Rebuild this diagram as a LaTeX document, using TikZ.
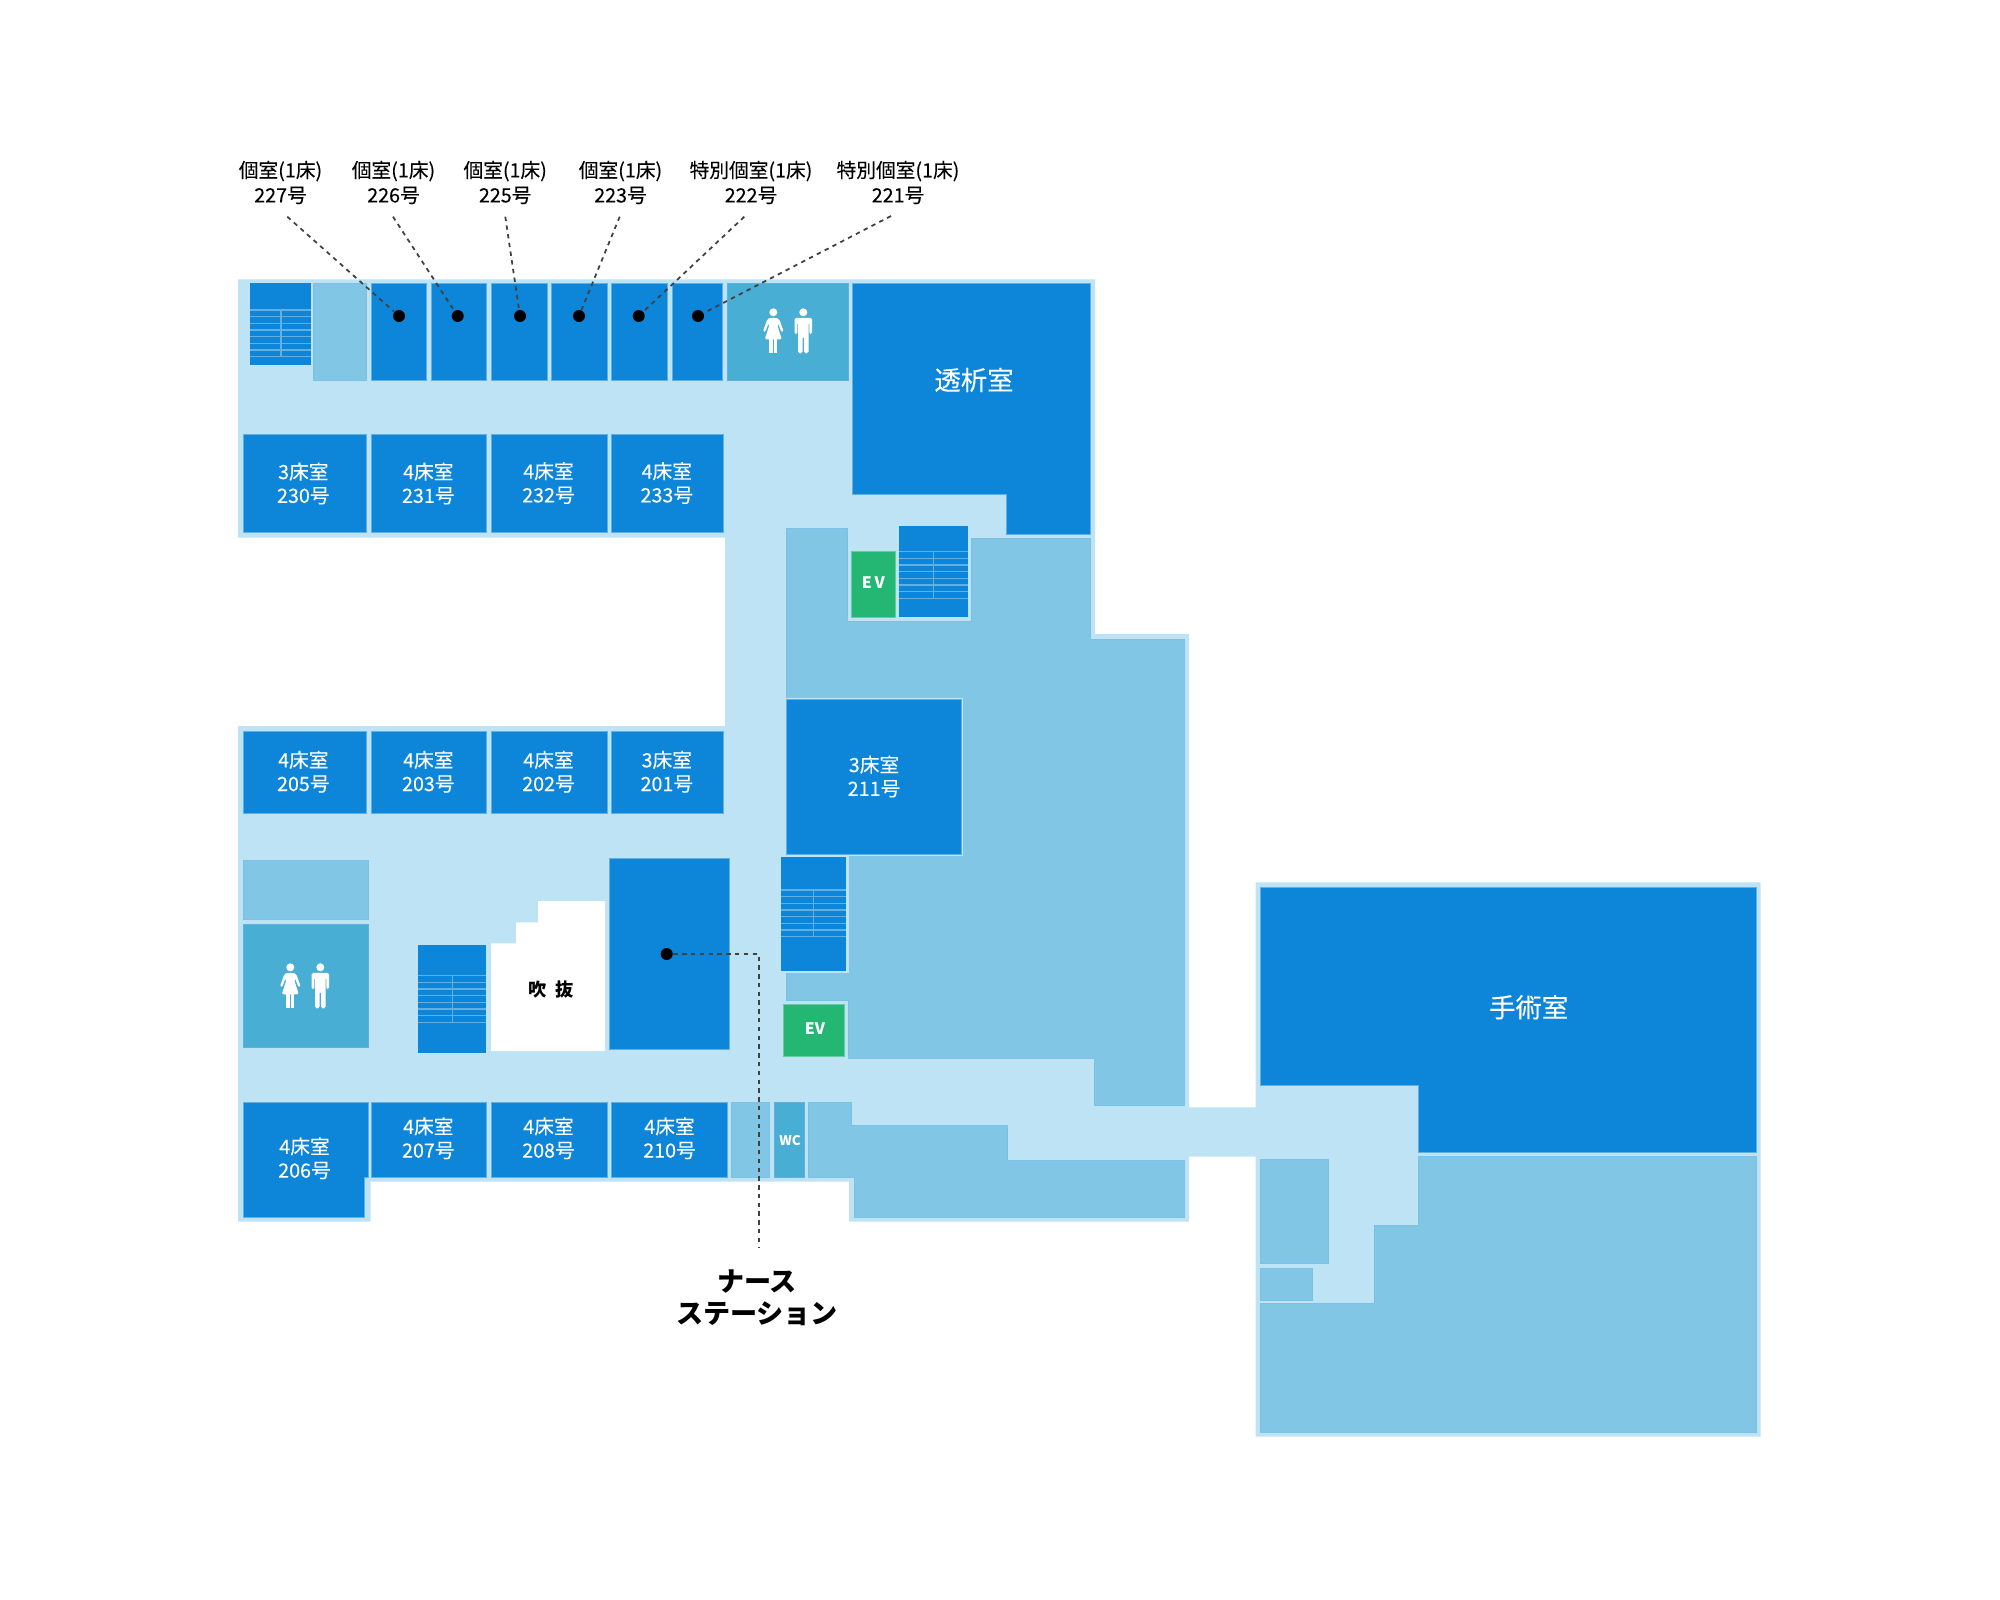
\documentclass[tikz,border=0pt]{standalone}
\usepackage{fontspec}
\newfontfamily\cjk{Noto Sans CJK JP}
\newfontfamily\cjkmid[FakeBold=0.12]{Noto Sans CJK JP}
\usetikzlibrary{positioning}
\definecolor{floorblue}{HTML}{BDE3F5}
\definecolor{paleblue}{HTML}{82C6E6}
\definecolor{roomblue}{HTML}{0D85D8}
\definecolor{wcblue}{HTML}{49AED4}
\definecolor{evgreen}{HTML}{24B774}
\definecolor{stepline}{HTML}{62B0E2}
\tikzstyle{every path}=[line join=miter]
\tikzstyle{floor}=[fill=floorblue]
\tikzstyle{pale}=[fill=paleblue,draw=paleblue!92!roomblue,line width=0.2pt]
\tikzstyle{room}=[fill=roomblue,draw=stepline,line width=0.2pt]
\tikzstyle{wcroom}=[fill=wcblue,draw=stepline,line width=0.2pt]
\tikzstyle{evroom}=[fill=evgreen,draw=evgreen!70!white,line width=0.2pt]
\tikzstyle{leader}=[draw=black!75,line width=0.5pt,dash pattern=on 1.25pt off 1.25pt]
\tikzstyle{dot}=[circle,fill=black,inner sep=0pt,minimum size=0.12cm]
\tikzstyle{roomlabel}=[text=white,align=center,inner sep=0pt,font=\cjkmid\fontsize{5.6}{6.75}\selectfont]
\tikzstyle{toplabel}=[text=black,align=center,inner sep=0pt,font=\cjkmid\fontsize{5.6}{7.1}\selectfont]
\tikzstyle{biglabel}=[text=white,inner sep=0pt,font=\cjkmid\fontsize{7.5}{9}\selectfont]
\tikzstyle{signlabel}=[text=white,inner sep=0pt,font=\cjk\bfseries\fontsize{4.5}{6}\selectfont]
% stair block: left, top, right, bottom, first step line, centre line
\newcommand{\stairblock}[6]{
  \fill[roomblue] (#1,#2) rectangle (#3,#4);
  \foreach \k in {0,...,7}
    \draw[stepline,line width=0.4pt] (#1,#5+\k*6.667) -- (#3,#5+\k*6.667);
  \draw[stepline,line width=0.4pt] (#6,#5) -- (#6,#5+46.67);
}
% woman and man pictogram, x of the woman, y of the heads
\newcommand{\wcsign}[2]{
  \begin{scope}[shift={(#1,#2)},white]
    \fill (0,0) circle (4);
    \fill[rounded corners=0.4pt] (-3.5,5.5) -- (3.5,5.5) -- (6,7) -- (10.3,19) -- (8.3,20) -- (4.7,11) -- (4,13) -- (8.5,27) -- (-8.5,27) -- (-4,13) -- (-4.7,11) -- (-8.3,20) -- (-10.3,19) -- (-6,7) -- cycle;
    \fill (-4,27) rectangle (-0.7,41);
    \fill (0.7,27) rectangle (4,41);
    \fill (30,0) circle (4);
    \fill[rounded corners=0.5pt] (21.2,22) -- (21.2,5.5) -- (38.8,5.5) -- (38.8,22) -- (36,22) -- (36,10) -- (35.3,10) -- (35.3,41) -- (30.7,41) -- (30.7,24) -- (29.3,24) -- (29.3,41) -- (24.7,41) -- (24.7,10) -- (24,10) -- (24,22) -- cycle;
  \end{scope}
}

\begin{document}
\begin{tikzpicture}[x=0.01cm,y=-0.01cm]
\useasboundingbox (0,0) rectangle (2000,1600);

% floor
\fill[floor] (238,279.3) -- (1095,279.3) -- (1095,634) -- (1189,634) -- (1189,1107.3) -- (1255.7,1107.3) -- (1255.7,882.3) -- (1760.7,882.3) -- (1760.7,1436.7) -- (1255.7,1436.7) -- (1255.7,1156.7) -- (1189,1156.7) -- (1189,1221.7) -- (849,1221.7) -- (849,1181.7) -- (370.7,1181.7) -- (370.7,1221.7) -- (238,1221.7) -- (238,726) -- (725,726) -- (725,537.7) -- (238,537.7) -- cycle;

% pale areas
\draw[pale] (786.7,528.3) -- (847.3,528.3) -- (847.3,621.7) -- (971.7,621.7) -- (971.7,538.3) -- (1090,538.3) -- (1090,639) -- (1184,639) -- (1184,1105.3) -- (1094,1105.3) -- (1094,1058) -- (848.7,1058) -- (848.7,1000) -- (786.7,1000) -- cycle;
\fill[floor] (783,698) rectangle (963,856);
\fill[floor] (778,856) rectangle (848.7,973);
\draw[pale] (808.7,1102.3) -- (851.7,1102.3) -- (851.7,1125) -- (1007,1125) -- (1007,1160) -- (1184,1160) -- (1184,1217.3) -- (854,1217.3) -- (854,1177.3) -- (808.7,1177.3) -- cycle;
\draw[pale] (313,283.3) rectangle (366.7,380.7);
\draw[pale] (243,860.3) rectangle (368.3,919.7);
\draw[pale] (731,1102.3) rectangle (769.3,1177.3);
\draw[pale] (1260,1159) rectangle (1328.3,1263.7);
\draw[pale] (1260,1268) rectangle (1312.3,1300.3);
\draw[pale] (1418.3,1156) -- (1756,1156) -- (1756,1432.7) -- (1260,1432.7) -- (1260,1303.7) -- (1374,1303.7) -- (1374,1225.7) -- (1418.3,1225.7) -- cycle;

% upper wing
\draw[room] (371,283.3) rectangle (426.7,380.7);
\draw[room] (431,283.3) rectangle (486.7,380.7);
\draw[room] (491,283.3) rectangle (547,380.7);
\draw[room] (551,283.3) rectangle (607,380.7);
\draw[room] (611.3,283.3) rectangle (667.3,380.7);
\draw[room] (672,283.3) rectangle (722.7,380.7);
\draw[wcroom] (727.3,283.3) rectangle (848,380.7);
\draw[room] (852.3,283.3) -- (1090,283.3) -- (1090,534) -- (1006,534) -- (1006,494) -- (852.3,494) -- cycle;
\draw[room] (243,434) rectangle (366.3,532.7);
\draw[room] (371,434) rectangle (486.7,532.7);
\draw[room] (491,434) rectangle (607,532.7);
\draw[room] (611.3,434) rectangle (723,532.7);
\stairblock{250.3}{283.3}{311}{365}{310}{281}
\stairblock{899}{526}{967.7}{617.3}{551.7}{933.3}
\draw[evroom] (851.7,551.7) rectangle (895.3,617.3);

% lower wing
\draw[room] (243,731) rectangle (366.3,813.7);
\draw[room] (371,731) rectangle (486.7,813.7);
\draw[room] (491,731) rectangle (607,813.7);
\draw[room] (611.3,731) rectangle (723,813.7);
\draw[room] (786,699.5) rectangle (961,854);
\draw[wcroom] (243,924) rectangle (368.3,1047.7);
\fill[white] (491,943.3) -- (516,943.3) -- (516,922.3) -- (538,922.3) -- (538,901) -- (605,901) -- (605,1051) -- (491,1051) -- cycle;
\draw[room] (609.3,858.3) rectangle (729,1049.3);
\stairblock{418}{945}{486}{1053.3}{975.7}{452.3}
\stairblock{781}{856.7}{846}{970.7}{890}{813.7}
\draw[evroom] (783.3,1004.3) rectangle (844.3,1056.7);
\draw[room] (243,1102.3) -- (368.3,1102.3) -- (368.3,1177) -- (364.3,1177) -- (364.3,1217.3) -- (243,1217.3) -- cycle;
\draw[room] (371,1102.3) rectangle (486.7,1177.3);
\draw[room] (491,1102.3) rectangle (607,1177.3);
\draw[room] (611.3,1102.3) rectangle (727,1177.3);
\draw[wcroom] (774,1102.3) rectangle (804,1177.3);

% operating block
\draw[room] (1260,887) -- (1756,887) -- (1756,1152) -- (1418.3,1152) -- (1418.3,1085.3) -- (1260,1085.3) -- cycle;

\wcsign{773.3}{312.3}
\wcsign{290.3}{967.3}

% room texts
\node[roomlabel] (r230) at (303.3,483.5) {3床室\\230号};
\node[roomlabel] (r231) at (428.3,483.5) {4床室\\231号};
\node[roomlabel] (r232) at (548.5,483) {4床室\\232号};
\node[roomlabel] (r233) at (666.8,483) {4床室\\233号};
\node[roomlabel] (r205) at (303.3,771.7) {4床室\\205号};
\node[roomlabel] (r203) at (428.3,771.7) {4床室\\203号};
\node[roomlabel] (r202) at (548.5,771.7) {4床室\\202号};
\node[roomlabel] (r201) at (666.8,771.7) {3床室\\201号};
\node[roomlabel] (r211) at (874,776.5) {3床室\\211号};
\node[roomlabel] (r206) at (304.5,1158.3) {4床室\\206号};
\node[roomlabel] (r207) at (428.3,1138.3) {4床室\\207号};
\node[roomlabel] (r208) at (548.5,1138.3) {4床室\\208号};
\node[roomlabel] (r210) at (669.5,1138.3) {4床室\\210号};
\node[biglabel] (dialysis) at (974,380) {透析室};
\node[biglabel] (surgery) at (1528.7,1007.3) {手術室};
\node[signlabel] (ev1) at (873.3,583) {E\,V};
\node[signlabel] (ev2) at (815,1029) {EV};
\node[signlabel,font=\cjk\bfseries\fontsize{3.8}{5}\selectfont] (wc1) at (790,1141) {WC};
\node[text=black,inner sep=0pt,font=\cjk\bfseries\fontsize{5.2}{7}\selectfont] (void) at (551,989.5) {吹\,\,\,抜};

% leaders
\node[toplabel] (n227) at (280.5,182.5) {個室(1床)\\227号};
\node[toplabel] (n226) at (393.5,182.5) {個室(1床)\\226号};
\node[toplabel] (n225) at (505.2,182.5) {個室(1床)\\225号};
\node[toplabel] (n223) at (620.5,182.5) {個室(1床)\\223号};
\node[toplabel] (n222) at (751,182.5) {特別個室(1床)\\222号};
\node[toplabel] (n221) at (898,182.5) {特別個室(1床)\\221号};
\node[dot] (d227) at (399,316) {};
\node[dot] (d226) at (457.7,316) {};
\node[dot] (d225) at (520,316) {};
\node[dot] (d223) at (579,316) {};
\node[dot] (d222) at (638.7,316) {};
\node[dot] (d221) at (698,316) {};
\coordinate (c227) at (287.3,216.7);
\coordinate (c226) at (393,216.7);
\coordinate (c225) at (505.3,216.7);
\coordinate (c223) at (619.7,216.7);
\coordinate (c222) at (744.3,216.7);
\coordinate (c221) at (891,216);
\draw[leader] (c227) -- (d227);
\draw[leader] (c226) -- (d226);
\draw[leader] (c225) -- (d225);
\draw[leader] (c223) -- (d223);
\draw[leader] (c222) -- (d222);
\draw[leader] (c221) -- (d221);

\node[dot] (dnurse) at (666.7,954) {};
\coordinate (cbend) at (758.8,954);
\coordinate (cnurse) at (758.8,1247);
\draw[leader] (dnurse) -- (cbend) -- (cnurse);
\node[text=black,align=center,inner sep=0pt,font=\cjk\bfseries\fontsize{7.7}{9.2}\selectfont] (nurse) at (757,1298) {ナース\\ステーション};
\end{tikzpicture}
\end{document}
